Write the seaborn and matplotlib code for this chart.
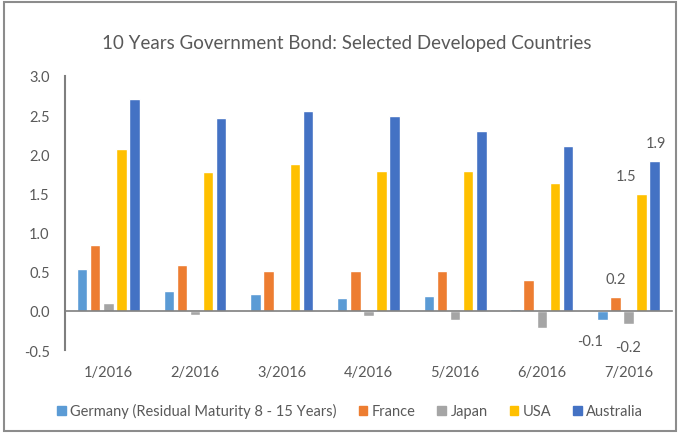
import matplotlib
matplotlib.use("Agg")
import matplotlib.pyplot as plt
import seaborn as sns
import pandas as pd
from matplotlib.patches import Rectangle

months = ["1/2016", "2/2016", "3/2016", "4/2016", "5/2016", "6/2016", "7/2016"]
countries = ["Germany (Residual Maturity 8 - 15 Years)", "France", "Japan", "USA", "Australia"]
germany = [0.53, 0.25, 0.22, 0.17, 0.19, 0.02, -0.12]
france = [0.84, 0.59, 0.51, 0.51, 0.51, 0.39, 0.18]
japan = [0.10, -0.05, -0.02, -0.07, -0.11, -0.22, -0.17]
usa = [2.07, 1.77, 1.87, 1.79, 1.79, 1.63, 1.49]
australia = [2.71, 2.46, 2.55, 2.49, 2.30, 2.10, 1.91]
last_labels = ["-0.1", "0.2", "-0.2", "1.5", "1.9"]
colors = ["#5B9BD5", "#ED7D31", "#A5A5A5", "#FFC000", "#4472C4"]

series = [germany, france, japan, usa, australia]
rows = []
for c, vals in zip(countries, series):
    for m, v in zip(months, vals):
        rows.append({"month": m, "country": c, "value": v})
df = pd.DataFrame(rows)

sns.set_style("white")
plt.rcParams["font.family"] = ["Lato", "DejaVu Sans"]

fig = plt.figure(figsize=(6.8, 4.35), dpi=100)
ax = fig.add_axes([0.0956, 0.193, 0.8924, 0.63])
sns.barplot(data=df, x="month", y="value", hue="country", hue_order=countries,
            order=months, palette=colors, width=0.755, gap=0.2, ax=ax,
            saturation=1, legend=True, errorbar=None)

ax.set_ylim(-0.5, 3.0)
ax.set_xlim(-0.5, 6.5)
yt = [-0.5, 0, 0.5, 1.0, 1.5, 2.0, 2.5, 3.0]
ax.set_yticks(yt)
ax.set_yticklabels([f"{t:.1f}" for t in yt])
ax.set_xlabel("")
ax.set_ylabel("")
txtc = "#595959"
fs = 10.5
ax.tick_params(axis="y", length=0, labelsize=fs, labelcolor=txtc, pad=11)
for s in ["top", "right"]:
    ax.spines[s].set_visible(False)
ax.spines["left"].set_color("#7f7f7f")
ax.spines["left"].set_linewidth(1.5)
ax.spines["bottom"].set_position(("data", 0))
ax.spines["bottom"].set_color("#7f7f7f")
ax.spines["bottom"].set_linewidth(1.2)
ax.set_xticks(range(len(months)))
ax.set_xticklabels(months)
ax.tick_params(axis="x", which="major", length=0, labelsize=fs, labelcolor=txtc, pad=39)
ax.set_xticks([i + 0.5 for i in range(len(months) - 1)], minor=True)
ax.tick_params(axis="x", which="minor", length=4, color="#7f7f7f", width=1.2, direction="out")

# data labels on the last group
last = len(months) - 1
offsets = [(-9, -15), (0, 13), (0, -16.5), (-11, 13), (1, 13)]
for cont, lab, off in zip(ax.containers, last_labels, offsets):
    bar = cont[last]
    x = bar.get_x() + bar.get_width() / 2
    h = bar.get_height()
    ax.annotate(lab, (x, h), xytext=off, textcoords="offset points",
                ha="center", va="center", fontsize=fs, color=txtc)

ax.legend_.remove()
handles = [Rectangle((0, 0), 1, 1, color=c) for c in colors]
fig.legend(handles, countries, loc="center", bbox_to_anchor=(0.515, 0.053), ncol=5,
           frameon=False, fontsize=fs, handlelength=0.6, handleheight=0.6,
           handletextpad=0.3, columnspacing=1.5, labelcolor=txtc)

fig.text(0.51, 0.9, "10 Years Government Bond: Selected Developed Countries",
         ha="center", va="center", fontsize=13.5, color=txtc)

fig.patches.append(Rectangle((0.006, 0.006), 0.988, 0.988, transform=fig.transFigure,
                             fill=False, edgecolor="#8c8c8c", linewidth=1.5))

fig.savefig("out.png", dpi=100)
